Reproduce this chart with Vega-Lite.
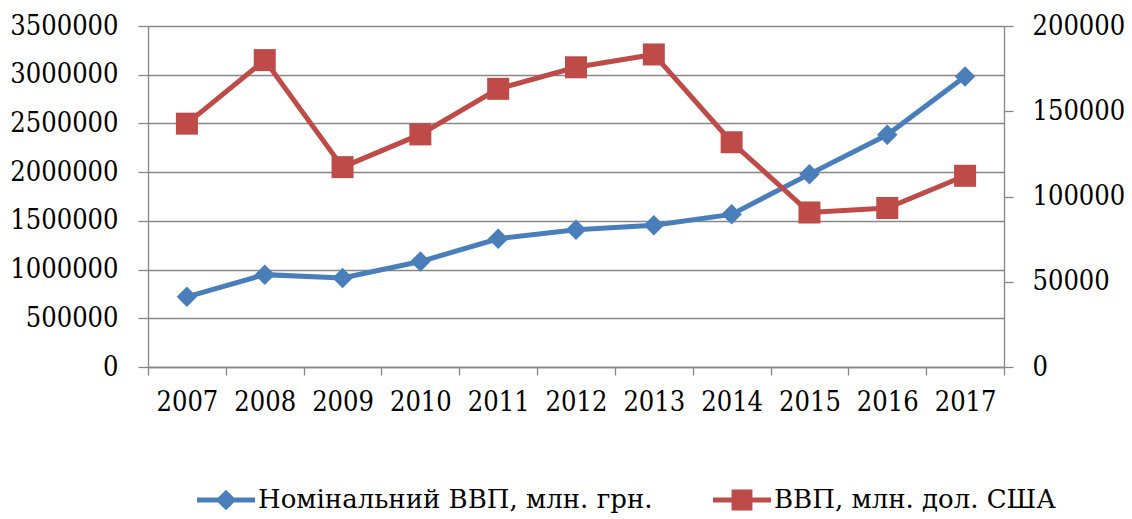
{
  "$schema": "https://vega.github.io/schema/vega-lite/v6.json",
  "width": 856,
  "height": 341,
  "autosize": {"type": "none"},
  "padding": {"left": 148, "top": 26, "right": 128, "bottom": 152},
  "background": "white",
  "config": {
    "view": {"stroke": null},
    "axis": {"labelFont": "DejaVu Serif Condensed", "labelFontSize": 27, "labelColor": "#000000", "domainColor": "#868686", "tickColor": "#868686", "gridColor": "#868686", "domainWidth": 1.3, "tickWidth": 1.3, "gridWidth": 1.3}
  },
  "data": {
    "values": [
      {"year": "2007", "series": "Номінальний ВВП, млн. грн.", "value": 720731},
      {"year": "2008", "series": "Номінальний ВВП, млн. грн.", "value": 948056},
      {"year": "2009", "series": "Номінальний ВВП, млн. грн.", "value": 913345},
      {"year": "2010", "series": "Номінальний ВВП, млн. грн.", "value": 1082569},
      {"year": "2011", "series": "Номінальний ВВП, млн. грн.", "value": 1316600},
      {"year": "2012", "series": "Номінальний ВВП, млн. грн.", "value": 1408889},
      {"year": "2013", "series": "Номінальний ВВП, млн. грн.", "value": 1454931},
      {"year": "2014", "series": "Номінальний ВВП, млн. грн.", "value": 1566728},
      {"year": "2015", "series": "Номінальний ВВП, млн. грн.", "value": 1979458},
      {"year": "2016", "series": "Номінальний ВВП, млн. грн.", "value": 2383182},
      {"year": "2017", "series": "Номінальний ВВП, млн. грн.", "value": 2982920},
      {"year": "2007", "series": "ВВП, млн. дол. США", "value": 142719},
      {"year": "2008", "series": "ВВП, млн. дол. США", "value": 179992},
      {"year": "2009", "series": "ВВП, млн. дол. США", "value": 117228},
      {"year": "2010", "series": "ВВП, млн. дол. США", "value": 136419},
      {"year": "2011", "series": "ВВП, млн. дол. США", "value": 163160},
      {"year": "2012", "series": "ВВП, млн. дол. США", "value": 175781},
      {"year": "2013", "series": "ВВП, млн. дол. США", "value": 183310},
      {"year": "2014", "series": "ВВП, млн. дол. США", "value": 131805},
      {"year": "2015", "series": "ВВП, млн. дол. США", "value": 90615},
      {"year": "2016", "series": "ВВП, млн. дол. США", "value": 93270},
      {"year": "2017", "series": "ВВП, млн. дол. США", "value": 112154}
    ]
  },
  "encoding": {
    "x": {
      "field": "year", "type": "ordinal",
      "scale": {"paddingInner": 0, "paddingOuter": 0},
      "axis": {"title": null, "labelAngle": 0, "tickBand": "extent", "tickSize": 8, "labelPadding": 14, "grid": false}
    }
  },
  "layer": [
    {
      "encoding": {
        "y": {
          "field": "value", "type": "quantitative",
          "scale": {"domain": [0, 3500000], "nice": false, "zero": true},
          "axis": {"title": null, "orient": "left", "values": [0, 500000, 1000000, 1500000, 2000000, 2500000, 3000000, 3500000], "format": "d", "grid": true, "tickSize": 10, "labelPadding": 20}
        }
      },
      "layer": [
        {
          "transform": [{"filter": "datum.series === 'Номінальний ВВП, млн. грн.'"}],
          "mark": {"type": "line", "color": "#4A7EBB", "strokeWidth": 5}
        },
        {
          "transform": [{"filter": "datum.series === 'Номінальний ВВП, млн. грн.'"}],
          "mark": {"type": "point", "shape": "diamond", "filled": true, "size": 420, "color": "#4A7EBB", "opacity": 1}
        },
        {
          "mark": {"type": "point", "filled": true, "opacity": 0},
          "encoding": {
            "color": {
              "field": "series", "type": "nominal",
              "scale": {"domain": ["Номінальний ВВП, млн. грн.", "ВВП, млн. дол. США"], "range": ["#4A7EBB", "#BE4B48"]},
              "legend": {"title": null, "orient": "none", "legendX": 49, "legendY": 445, "direction": "horizontal", "columns": 2, "labelFont": "DejaVu Serif", "labelFontSize": 26, "labelColor": "#000000", "labelLimit": 800, "labelOffset": 3, "columnPadding": 60, "symbolSize": 3364, "symbolOpacity": 1, "symbolStrokeWidth": 0}
            },
            "shape": {
              "field": "series", "type": "nominal",
              "scale": {"domain": ["Номінальний ВВП, млн. грн.", "ВВП, млн. дол. США"], "range": [
                "M-1,-0.086L-0.27,-0.086L0,-0.356L0.27,-0.086L1,-0.086L1,0.086L0.27,0.086L0,0.356L-0.27,0.086L-1,0.086Z",
                "M-1,-0.086L-0.36,-0.086L-0.36,-0.36L0.36,-0.36L0.36,-0.086L1,-0.086L1,0.086L0.36,0.086L0.36,0.36L-0.36,0.36L-0.36,0.086L-1,0.086Z"
              ]},
              "legend": {"title": null, "orient": "none", "legendX": 49, "legendY": 445, "direction": "horizontal", "columns": 2, "labelFont": "DejaVu Serif", "labelFontSize": 26, "labelColor": "#000000", "labelLimit": 800, "labelOffset": 3, "columnPadding": 60, "symbolSize": 3364, "symbolOpacity": 1, "symbolStrokeWidth": 0}
            }
          }
        }
      ]
    },
    {
      "transform": [{"filter": "datum.series === 'ВВП, млн. дол. США'"}],
      "encoding": {
        "y": {
          "field": "value", "type": "quantitative",
          "scale": {"domain": [0, 200000], "nice": false, "zero": true},
          "axis": {"title": null, "orient": "right", "values": [0, 50000, 100000, 150000, 200000], "format": "d", "grid": false, "tickSize": 9, "labelPadding": 19}
        }
      },
      "layer": [
        {"mark": {"type": "line", "color": "#BE4B48", "strokeWidth": 5}},
        {"mark": {"type": "point", "shape": "square", "filled": true, "size": 484, "color": "#BE4B48", "opacity": 1}}
      ]
    }
  ],
  "resolve": {"scale": {"y": "independent"}}
}
